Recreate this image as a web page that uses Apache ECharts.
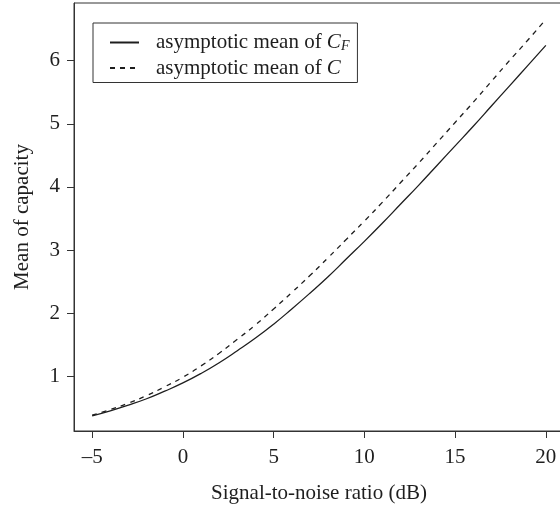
<!DOCTYPE html>
<html>
<head>
    <meta charset="utf-8">
    <title>Mean of capacity</title>
    <script src="https://cdn.jsdelivr.net/npm/echarts@6/dist/echarts.min.js"></script>
    <style>
        html, body { margin: 0; padding: 0; background: #ffffff; }
        #chart { width: 560px; height: 506px; }
    </style>
</head>
<body>
<div id="chart"></div>
<script>
    // SNR (dB) and asymptotic means
    var snr = [-5, -4, -3, -2, -1, 0, 1, 2, 3, 4, 5, 6, 7, 8, 9, 10, 11, 12, 13, 14, 15, 16, 17, 18, 19, 20];
    var meanCF = [0.38, 0.46, 0.55, 0.65, 0.77, 0.90, 1.05, 1.22, 1.41, 1.61, 1.83, 2.07, 2.32, 2.58, 2.86,
        3.14, 3.43, 3.73, 4.03, 4.34, 4.65, 4.96, 5.28, 5.60, 5.92, 6.24];
    var meanC = [0.39, 0.48, 0.58, 0.70, 0.84, 0.99, 1.17, 1.37, 1.59, 1.82, 2.07, 2.33, 2.60, 2.88, 3.17,
        3.46, 3.76, 4.07, 4.38, 4.70, 5.02, 5.34, 5.67, 6.00, 6.32, 6.65];
    var xTicks = [-5, 0, 5, 10, 15, 20];
    var yTicks = [1, 2, 3, 4, 5, 6];

    var ink = '#1e1e1e';
    var font = 'Liberation Serif';

    function pairs(xs, ys) {
        return xs.map(function (x, i) { return [x, ys[i]]; });
    }

    var chart = echarts.init(document.getElementById('chart'), null, {renderer: 'canvas'});
    chart.setOption({
        animation: false,
        backgroundColor: '#ffffff',
        grid: {
            left: 74, top: 3, width: 490, bottom: 75,
            show: true, borderColor: '#333', borderWidth: 1,
            outerBoundsMode: 'none'
        },
        legend: {
            orient: 'vertical',
            left: 93, top: 23,
            padding: [9, 8, 4, 16],
            itemGap: 4,
            itemWidth: 29,
            itemHeight: 14,
            borderColor: '#333',
            borderWidth: 1,
            itemStyle: {opacity: 0},
            formatter: function (name) {
                return name === 'CF'
                    ? '{t|asymptotic mean of }{i|C}{s|F}'
                    : '{t|asymptotic mean of }{i|C}';
            },
            textStyle: {
                color: ink,
                fontFamily: font,
                rich: {
                    t: {fontSize: 21, fontFamily: font, color: ink, lineHeight: 22, padding: [0, 0, 0, 12]},
                    i: {fontSize: 21, fontFamily: font, fontStyle: 'italic', color: ink, lineHeight: 22},
                    s: {fontSize: 14, fontFamily: font, fontStyle: 'italic', color: ink, lineHeight: 14, verticalAlign: 'bottom'}
                }
            },
            data: ['CF', 'C']
        },
        xAxis: {
            type: 'value',
            min: -6, max: 21,
            name: 'Signal-to-noise ratio (dB)',
            nameLocation: 'middle',
            nameGap: 52,
            nameTextStyle: {fontFamily: font, fontSize: 21, color: ink, verticalAlign: 'top'},
            splitLine: {show: false},
            axisLine: {show: true, onZero: false, lineStyle: {color: '#333', width: 1}},
            axisTick: {show: true, length: 7, customValues: xTicks, lineStyle: {color: '#333'}},
            axisLabel: {
                customValues: xTicks,
                margin: 16,
                fontFamily: font, fontSize: 21, color: ink,
                formatter: function (v) { return String(v).replace('-', '\u2013'); }
            }
        },
        yAxis: {
            type: 'value',
            min: 0.14, max: 6.91,
            name: 'Mean of capacity',
            nameLocation: 'middle',
            nameGap: 41,
            nameTextStyle: {fontFamily: font, fontSize: 21, color: ink},
            splitLine: {show: false},
            axisLine: {show: true, onZero: false, lineStyle: {color: '#333', width: 1}},
            axisTick: {show: true, length: 7, customValues: yTicks, lineStyle: {color: '#333'}},
            axisLabel: {
                customValues: yTicks,
                margin: 14,
                fontFamily: font, fontSize: 21, color: ink
            }
        },
        series: [
            {
                name: 'CF',
                type: 'line',
                data: pairs(snr, meanCF),
                showSymbol: false,
                symbol: 'none',
                smooth: true,
                lineStyle: {color: ink, width: 1.3, type: 'solid'},
                itemStyle: {color: ink}
            },
            {
                name: 'C',
                type: 'line',
                data: pairs(snr, meanC),
                showSymbol: false,
                symbol: 'none',
                smooth: true,
                lineStyle: {color: ink, width: 1.3, type: [5, 5]},
                itemStyle: {color: ink}
            }
        ]
    });
</script>
</body>
</html>
